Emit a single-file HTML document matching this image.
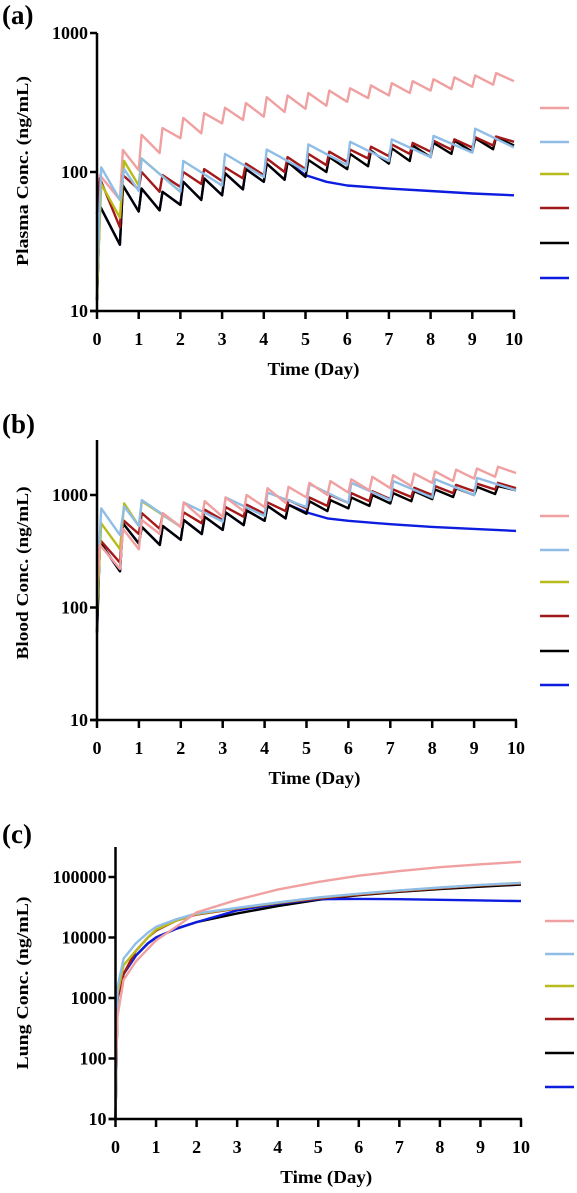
<!DOCTYPE html>
<html><head><meta charset="utf-8"><style>
html,body{margin:0;padding:0;background:#fff;}
svg{display:block;}
text{font-family:"Liberation Serif",serif;font-weight:bold;fill:#000;}
</style></head><body>
<svg id="fig" width="577" height="1193" viewBox="0 0 577 1193" xmlns="http://www.w3.org/2000/svg"></svg>
<script>
// ---------- shared data ----------
const xTicks = [0,1,2,3,4,5,6,7,8,9,10];
const seriesNames = ['pink','lightblue','yellow','darkred','black','blue'];
const seriesColors = {pink:'#f0a0a0',lightblue:'#8fbde6',yellow:'#b8bb1c',darkred:'#a31818',black:'#000000',blue:'#0d1de0'};
const q12Times = [0,0.55,1.0,1.5,2.0,2.5,3.0,3.5,4.0,4.5,5.0,5.5,6.0,6.5,7.0,7.5,8.0,8.5,9.0,9.5];

// ---------- panel (a) plasma ----------
const aPinkTrough = [50,63,103,137,175,190,224,237,250,270,285,300,320,340,355,370,385,395,410,425];
const aPinkPeak   = [95,144,185,207,245,265,290,313,345,355,370,385,400,420,435,450,465,480,495,515];
const aPinkEnd = 450;
const aBlackTrough = [12,30,52,53,58,63,68,75,85,88,92,100,105,110,115,120,128,135,140,146];
const aBlackPeak   = [57,80,76,72,85,90,98,105,115,118,122,128,135,142,148,155,162,168,175,178];
const aBlackEnd = 155;
const aRedTrough = [50,40,75,72,78,82,86,90,95,100,105,112,118,125,130,135,140,145,150,155];
const aRedPeak   = [90,95,100,95,100,105,108,115,125,128,135,140,145,152,158,162,168,172,178,180];
const aRedEnd = 165;
const aLightT = [0,0.1,0.55,0.65,1.0,1.07,2.0,2.07,3.0,3.07,4.0,4.07,5.0,5.07,6.0,6.07,7.0,7.07,8.0,8.07,9.0,9.07,10];
const aLightV = [17,108,63,105,73,125,72,120,80,135,92,145,102,158,112,165,120,172,128,182,138,205,150];
const aYellowT = [0,0.1,0.55,0.65,1.0,1.07,2.0];
const aYellowV = [13,82,47,120,80,125,72];
const aBlueT = [0,0.07,0.55,0.62,1.0,1.07,1.5,1.57,2.0,2.07,2.5,2.57,3.0,3.07,3.5,3.57,4.0,4.07,4.5,4.57,5.0,5.5,6,7,8,9,10];
const aBlueV = [12,57,30,80,52,76,53,72,58,85,63,90,68,98,75,105,85,115,88,118,95,85,80,76,73,70,68];

// ---------- panel (b) blood ----------
const bPinkTrough = [150,220,330,450,520,620,640,720,780,850,950,1000,1050,1100,1150,1200,1280,1330,1400,1450];
const bPinkPeak   = [360,500,600,690,860,880,950,1000,1150,1180,1280,1330,1380,1450,1500,1550,1620,1680,1720,1780];
const bPinkEnd = 1570;
const bBlackTrough = [60,210,370,360,400,450,490,540,590,620,680,720,760,800,840,880,920,960,1000,1020];
const bBlackPeak   = [380,560,520,530,600,640,700,730,800,820,880,900,950,1000,1040,1080,1120,1150,1180,1200];
const bBlackEnd = 1100;
const bRedTrough = [100,250,450,500,520,560,600,640,680,720,760,800,850,880,920,960,1000,1040,1080,1120];
const bRedPeak   = [400,600,690,680,700,740,780,820,860,900,950,1000,1040,1080,1120,1160,1200,1230,1260,1280];
const bRedEnd = 1150;
const bLightT = [0,0.1,0.55,0.65,1.0,1.07,2.0,2.07,3.0,3.07,4.0,4.07,5.0,5.07,6.0,6.07,7.0,7.07,8.0,8.07,9.0,9.07,10];
const bLightV = [130,760,440,790,530,900,520,860,580,950,650,1050,780,1250,850,1280,900,1330,950,1380,1000,1420,1100];
const bYellowT = [0,0.1,0.55,0.65,1.0,1.07,2.0];
const bYellowV = [90,560,330,840,530,880,520];
const bBlueT = [0,0.07,0.55,0.62,1.0,1.07,1.5,1.57,2.0,2.07,2.5,2.57,3.0,3.07,3.5,3.57,4.0,4.07,4.5,4.57,5.0,5.5,6,7,8,9,10];
const bBlueV = [60,380,210,560,370,520,360,530,400,600,450,640,490,700,540,730,590,800,620,820,700,620,590,550,520,500,480];

// ---------- panel (c) lung ----------
const cT = [0,0.05,0.2,0.5,0.8,1,1.5,2,3,4,5,6,7,8,9,10];
const cPink   = [50,500,2000,4000,6500,9000,15000,26000,42000,62000,83000,105000,125000,145000,162000,178000];
const cLight  = [10,1500,4500,8000,12000,15000,20000,25000,31000,38000,46000,53000,60000,67000,74000,80000];
const cYellow = [10,1200,3500,6000,10000,13500,19000,24500,30500,37500,45500,52500,59500,66500,73500,79500];
const cRed    = [10,1000,2500,6000,10000,13000,19000,24000,30000,37000,44000,51000,58000,65000,72000,78000];
const cBlack  = [10,1000,2500,5000,8000,10000,14000,18000,25000,33000,42000,50000,57000,63000,69000,75000];
const cBlue   = [10,1000,2500,5000,8000,10000,14000,18000,28000,36000,43000,43500,43000,42000,41000,40000];

const NS='http://www.w3.org/2000/svg';
const svg=document.getElementById('fig');
function mk(tag,attrs,parent){const e=document.createElementNS(NS,tag);for(const k in attrs)e.setAttribute(k,attrs[k]);(parent||svg).appendChild(e);return e;}
function sawtooth(troughs,peaks,end){const t=[],v=[];for(let k=0;k<q12Times.length;k++){t.push(q12Times[k]);v.push(troughs[k]);t.push(q12Times[k]+0.07);v.push(peaks[k]);}t.push(10);v.push(end);return {t,v};}

function panel(cfg){
  const g=mk('g',{});
  
  
  const xs=t=>cfg.x0+(cfg.x1-cfg.x0)*t/10;
  const ys=v=>cfg.yBase-(Math.log10(v)-1)*cfg.dec;
  cfg.series.forEach(s=>{
    let d='';
    for(let i=0;i<s.t.length;i++){d+=(i?'L':'M')+xs(s.t[i]).toFixed(1)+' '+ys(s.v[i]).toFixed(1);}
    const p=mk('path',{d:d,fill:'none',stroke:seriesColors[s.c],'stroke-width':2.4,'stroke-linejoin':'round'},g);
    
    
  });
  const ya=mk('line',{x1:cfg.x0,y1:cfg.yTop,x2:cfg.x0,y2:cfg.yBase,stroke:'#000','stroke-width':2.5},g);
  
  
  const xa=mk('line',{x1:cfg.x0-7,y1:cfg.yBase,x2:cfg.x1+1,y2:cfg.yBase,stroke:'#000','stroke-width':2.5},g);
  
  
  xTicks.forEach(t=>{
    mk('line',{x1:xs(t),y1:cfg.yBase,x2:xs(t),y2:cfg.yBase+8,stroke:'#000','stroke-width':2.5},g);
    const tx=mk('text',{x:xs(t),y:cfg.yBase+34,'text-anchor':'middle','font-size':18},g);
    tx.textContent=t;
    
    
  });
  cfg.yTicks.forEach(v=>{
    mk('line',{x1:cfg.x0-7,y1:ys(v),x2:cfg.x0,y2:ys(v),stroke:'#000','stroke-width':2.5},g);
    const tx=mk('text',{x:cfg.x0-9,y:ys(v)+6,'text-anchor':'end','font-size':18},g);
    tx.textContent=v;
    
    
  });
  const yt=mk('text',{x:0,y:0,'text-anchor':'middle','font-size':17,textLength:cfg.ylen,lengthAdjust:'spacingAndGlyphs',transform:'translate('+cfg.ytx+','+cfg.yty+') rotate(-90)'},g);
  yt.textContent=cfg.ytitle;
  
  
  const xt=mk('text',{x:(cfg.x0+cfg.x1)/2+8,y:cfg.yBase+64,'text-anchor':'middle','font-size':18,textLength:92,lengthAdjust:'spacingAndGlyphs'},g);
  xt.textContent='Time (Day)';
  
  
  const lb=mk('text',{x:2,y:cfg.labelY,'font-size':27},g);
  lb.textContent='('+cfg.id+')';
  
  
  seriesNames.forEach((n,i)=>{
    const l=mk('line',{x1:cfg.legX,y1:cfg.legY[i],x2:cfg.legX+29,y2:cfg.legY[i],stroke:seriesColors[n],'stroke-width':2.6},g);
    
    
  });
}

const aP=sawtooth(aPinkTrough,aPinkPeak,aPinkEnd),aK=sawtooth(aBlackTrough,aBlackPeak,aBlackEnd),aR=sawtooth(aRedTrough,aRedPeak,aRedEnd);
panel({id:'a',x0:97,x1:514,yBase:311,dec:139,yTop:33,yTicks:[10,100,1000],ytitle:'Plasma Conc.  (ng/mL)',ylen:190,ytx:28,yty:171,labelY:24,legX:540,legY:[108,142,174,208,243,278],
 series:[{c:'pink',t:aP.t,v:aP.v},{c:'blue',t:aBlueT,v:aBlueV},{c:'black',t:aK.t,v:aK.v},{c:'darkred',t:aR.t,v:aR.v},{c:'yellow',t:aYellowT,v:aYellowV},{c:'lightblue',t:aLightT,v:aLightV}]});
const bP=sawtooth(bPinkTrough,bPinkPeak,bPinkEnd),bK=sawtooth(bBlackTrough,bBlackPeak,bBlackEnd),bR=sawtooth(bRedTrough,bRedPeak,bRedEnd);
panel({id:'b',x0:97,x1:516,yBase:720,dec:112.5,yTop:440,yTicks:[10,100,1000],ytitle:'Blood Conc.  (ng/mL)',ylen:173,ytx:28,yty:573,labelY:433,legX:540,legY:[516,550,582,616,651,685],
 series:[{c:'blue',t:bBlueT,v:bBlueV},{c:'black',t:bK.t,v:bK.v},{c:'darkred',t:bR.t,v:bR.v},{c:'yellow',t:bYellowT,v:bYellowV},{c:'lightblue',t:bLightT,v:bLightV},{c:'pink',t:bP.t,v:bP.v}]});
panel({id:'c',x0:115.5,x1:521,yBase:1119,dec:60.5,yTop:847,yTicks:[10,100,1000,10000,100000],ytitle:'Lung Conc.  (ng/mL)',ylen:173,ytx:28,yty:983,labelY:843,legX:545,legY:[921,954,986,1019,1053,1087],
 series:[{c:'black',t:cT,v:cBlack},{c:'blue',t:cT,v:cBlue},{c:'darkred',t:cT,v:cRed},{c:'yellow',t:cT,v:cYellow},{c:'lightblue',t:cT,v:cLight},{c:'pink',t:cT,v:cPink}]});
</script>
</body></html>
